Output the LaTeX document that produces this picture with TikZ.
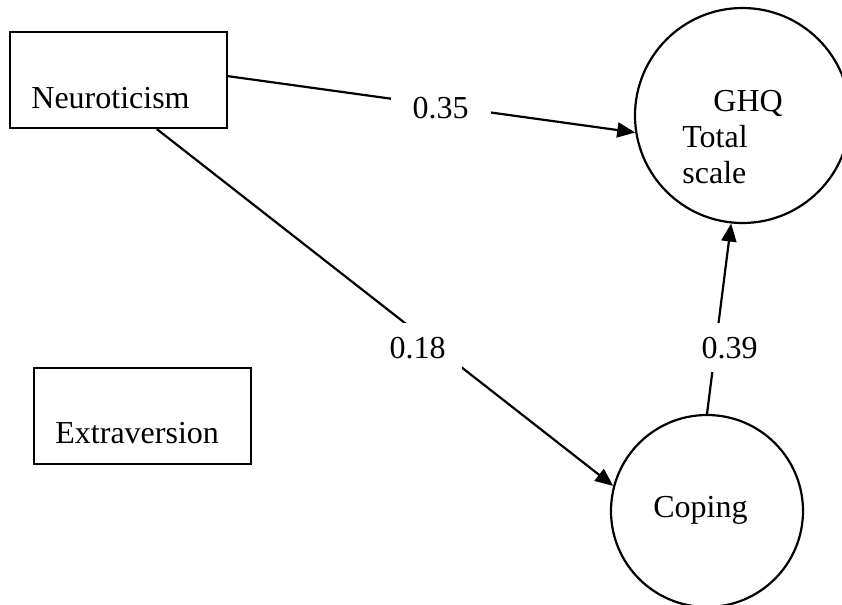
\documentclass[tikz,border=0pt]{standalone}
\usepackage{fontspec}
\setmainfont{Liberation Serif}
\usetikzlibrary{arrows.meta}
\tikzset{
	factor/.style={rectangle, draw=black, line width=1.1pt, minimum width=108.5pt, minimum height=48pt, inner sep=0pt},
	latent/.style={circle, draw=black, line width=1.1pt, inner sep=0pt},
	word/.style={inner sep=0pt, anchor=base west, font=\fontsize{16}{18}\selectfont},
	weight/.style={fill=white, anchor=base, inner xsep=8pt, inner ysep=7pt, font=\fontsize{16}{18}\selectfont},
	link/.style={-{Triangle[length=9pt, width=7.5pt]}, line width=1.1pt},
}

\begin{document}
\begin{tikzpicture}[x=0.5pt, y=-0.5pt]
		\useasboundingbox (0,0) rectangle (842,605);
		\node[factor] (neuro) at (118.5,80) {};
		\node[factor] (extra) at (142.5,416) {};
		\node[latent, minimum size=107.5pt] (ghq) at (742.5,115.5) {};
		\node[latent, minimum size=96pt] (coping) at (707,511) {};
		\node[word] (neurotext) at (31,108) {Neuroticism};
		\node[word] (extratext) at (55,443) {Extraversion};
		\node[word] (ghqtext) at (713,112) {GHQ};
		\node[word] (totaltext) at (682,148) {Total};
		\node[word] (scaletext) at (682,183) {scale};
		\node[word] (copingtext) at (653,517) {Coping};
		\draw[link] (neuro.2.6) -- (ghq.189);
		\draw[link] (neuro.-52.7) -- (coping.165);
		\draw[link] (coping.north) -- (ghq.-96);
		\node[weight, inner xsep=11pt, inner ysep=2pt] (w35) at (440.5,118) {0.35};
		\node[weight] (w18) at (417.5,358) {0.18};
		\node[weight] (w39) at (729.5,358) {0.39};
	\end{tikzpicture}
\end{document}
